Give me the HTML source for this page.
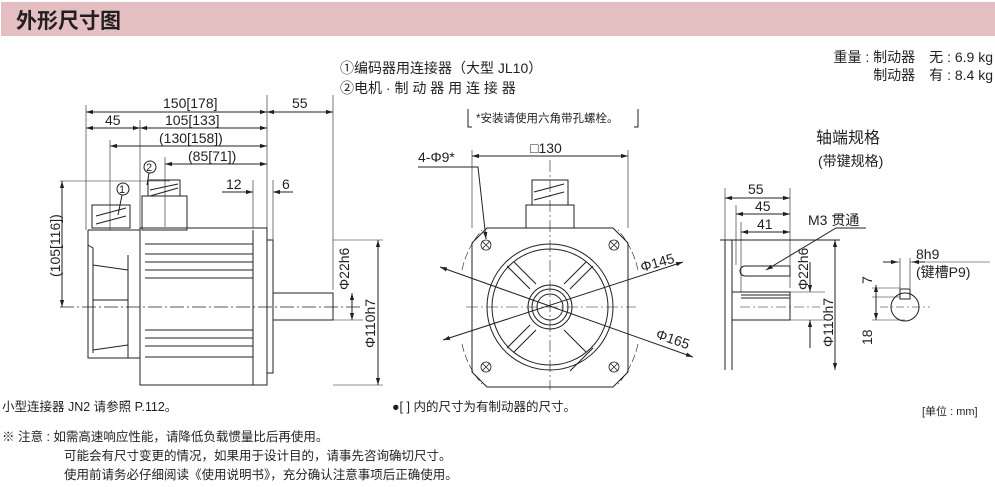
<!DOCTYPE html>
<html><head><meta charset="utf-8"><style>
body{margin:0;background:#fff;width:995px;height:487px;overflow:hidden}
svg{display:block}
text{font-family:"Liberation Sans","Noto Sans CJK SC",sans-serif;fill:#231f20}
</style></head><body>
<svg width="995" height="487" viewBox="0 0 995 487">
<defs><marker id="a" viewBox="0 0 10 10" refX="10" refY="5" markerWidth="7" markerHeight="7" orient="auto-start-reverse"><path d="M0,2 L10,5 L0,8z" fill="#231f20"/></marker></defs>
<rect x="1" y="2" width="994" height="34" fill="#e3bfc2"/>
<text x="16" y="28" font-size="21" font-weight="bold">外形尺寸图</text>

<g font-size="14">
<text x="340" y="73">①编码器用连接器（大型 JL10）</text>
<text x="340" y="93">②电机 · 制 动 器 用 连 接 器</text>
<text x="993" y="62" text-anchor="end">重量 : 制动器　无 : 6.9 kg</text>
<text x="993" y="80" text-anchor="end">制动器　有 : 8.4 kg</text>
<text x="816" y="143" font-size="16">轴端规格</text>
<text x="818" y="166">(带键规格)</text>
</g>
<path d="M468 109v18h4M638 109v18h-4" fill="none" stroke="#231f20"/>
<text x="476" y="122" font-size="11.5">*安装请使用六角带孔螺栓。</text>

<g stroke="#231f20" fill="none" stroke-width="1">
<rect x="140" y="228" width="127" height="157"/>
<path d="M267 240h6v133h-6"/>
<rect x="273" y="293" width="60" height="27"/>
<path d="M88 230h52M88 230v128h40M93 265l35 5M93 350l35-5M93 300h35M128 255v103h12M88 245l5 3v105"/>
<path d="M145 244h108M145 254h108M145 262h108M145 270h108M145 278h108M145 330h108M145 338h108M145 346h108M145 357h108M253 230v155"/>
<rect x="92" y="205" width="38" height="23"/>
<path d="M96 216l30-8M96 224l30-8"/>
<rect x="142" y="196" width="45" height="34"/><rect x="148" y="180" width="32" height="16"/>
<path d="M150 190l28-6M150 196l28-8"/>
<path d="M60 307h300" stroke-dasharray="14 3 2 3" stroke-width="0.7"/>
<path d="M86 105v125M267 95v135M333 95v195M140 120v108M110 140v90M165 157v70M253 180v48M273 180v60M60 181h110M333 240h50M333 320h30M333 385h50" stroke-width="0.6"/>
<path d="M86 112H267" marker-start="url(#a)" marker-end="url(#a)"/>
<path d="M267 112H333" marker-start="url(#a)" marker-end="url(#a)"/>
<path d="M86 128H140" marker-start="url(#a)" marker-end="url(#a)"/>
<path d="M140 128H267" marker-start="url(#a)" marker-end="url(#a)"/>
<path d="M110 146H267" marker-start="url(#a)" marker-end="url(#a)"/>
<path d="M165 164H267" marker-start="url(#a)" marker-end="url(#a)"/>
<path d="M222 192H253" marker-end="url(#a)"/><path d="M293 192H273" marker-end="url(#a)"/>
<path d="M62 181V307" marker-start="url(#a)" marker-end="url(#a)"/>
<path d="M352 293V320" marker-start="url(#a)" marker-end="url(#a)"/>
<path d="M378 240V385" marker-start="url(#a)" marker-end="url(#a)"/>
<circle cx="123" cy="189" r="6"/><circle cx="150" cy="167" r="6"/>
<path d="M122 195l-4 20M149 173l-2 12"/>
<!-- front view -->
<path d="M487 228h126l15 15v129l-15 15h-126l-15-15v-129z"/>
<rect x="526" y="205" width="48" height="23"/><rect x="532" y="180" width="36" height="25"/>
<path d="M534 192l30-8M534 200l30-8"/>
<circle cx="550" cy="307" r="63"/><circle cx="550" cy="307" r="58"/>
<circle cx="550" cy="307" r="22"/><circle cx="550" cy="307" r="18"/><circle cx="550" cy="307" r="13"/>
<path d="M507 266l23 23M593 266l-23 23M507 348l23-23M593 348l-23 23M514 262l22 22M586 262l-22 22M514 352l22-22M586 352l-22-22"/>
<g stroke-width="0.8"><circle cx="486" cy="245" r="5"/><circle cx="614" cy="245" r="5"/><circle cx="486" cy="367" r="5"/><circle cx="614" cy="367" r="5"/>
<path d="M482 241l8 8M490 241l-8 8M610 241l8 8M618 241l-8 8M482 363l8 8M490 363l-8 8M610 363l8 8M618 363l-8 8"/></g>
<path d="M550 160v230M466 307h170" stroke-dasharray="12 3 2 3" stroke-width="0.6"/>
<path d="M472 150v78M628 150v78" stroke-width="0.6"/>
<path d="M472 156H628" marker-start="url(#a)" marker-end="url(#a)"/>
<path d="M418 167h60l8 72" marker-end="url(#a)"/>
<path d="M443 340L683 262" marker-start="url(#a)" marker-end="url(#a)"/>
<path d="M440 267L693 357" marker-start="url(#a)" marker-end="url(#a)"/>
<path d="M462 270a90 90 0 0 1 20-40M462 344a90 90 0 0 0 20 40M638 270a90 90 0 0 0-20-40M638 344a90 90 0 0 1-20 40" stroke-dasharray="8 3" stroke-width="0.6"/>
<!-- shaft detail -->
<path d="M725 240v130M732 240v130M725 240h7M720 240h120"/>
<path d="M732 292h58v28h-58M741 295h49M741 298h49"/>
<path d="M745 266h45v10h-45a5 5 0 0 1 0-10z"/>
<path d="M740 307h80" stroke-dasharray="10 3 2 3" stroke-width="0.6"/>
<path d="M725 188v52M790 188v100M736 205v60M741 222v70M790 292h35M790 320h35" stroke-width="0.6"/>
<path d="M725 198H790" marker-start="url(#a)" marker-end="url(#a)"/>
<path d="M736 214H790" marker-start="url(#a)" marker-end="url(#a)"/>
<path d="M741 232H790" marker-start="url(#a)" marker-end="url(#a)"/>
<path d="M866 228h-30l-70 42" marker-end="url(#a)"/>
<path d="M810 262V292" marker-end="url(#a)"/><path d="M810 348V320" marker-end="url(#a)"/>
<path d="M835 240V370" marker-start="url(#a)" marker-end="url(#a)"/>
<circle cx="905" cy="307" r="14"/>
<path d="M900 289h10v10h-10z"/>
<path d="M900 258v30M910 258v30M883 262h17M910 262h80M872 288h28M872 297h28M872 320h33" stroke-width="0.6"/>
<path d="M876 285V297" marker-start="url(#a)"/><path d="M876 297V320" marker-end="url(#a)"/>
<path d="M880 307h50" stroke-dasharray="8 3 2 3" stroke-width="0.6"/>
</g>
<path d="M883 262h15" marker-end="url(#a)" stroke="#231f20"/><path d="M925 262h-13" marker-end="url(#a)" stroke="#231f20"/>

<g font-size="14">
<text x="163" y="108">150[178]</text><text x="292" y="108">55</text>
<text x="105" y="125">45</text><text x="165" y="125">105[133]</text>
<text x="159" y="143">(130[158])</text><text x="188" y="161">(85[71])</text>
<text x="226" y="189">12</text><text x="282" y="189">6</text>
<text x="119" y="193" font-size="11">1</text><text x="146" y="171" font-size="11">2</text>
<text transform="translate(60,277) rotate(-90)">(105[116])</text>
<text transform="translate(349,290) rotate(-90)">Φ22h6</text>
<text transform="translate(375,348) rotate(-90)">Φ110h7</text>
<text x="530" y="153">□130</text>
<text x="418" y="162">4-Φ9*</text>
<text transform="translate(642,272) rotate(-16)">Φ145</text>
<text transform="translate(655,338) rotate(19)">Φ165</text>
<text x="748" y="194">55</text><text x="755" y="211">45</text><text x="757" y="229">41</text>
<text x="808" y="225">M3 贯通</text>
<text transform="translate(808,290) rotate(-90)">Φ22h6</text>
<text transform="translate(833,347) rotate(-90)">Φ110h7</text>
<text x="916" y="259">8h9</text><text x="916" y="277">(键槽P9)</text>
<text transform="translate(872,284) rotate(-90)">7</text>
<text transform="translate(872,345) rotate(-90)">18</text>
</g>
<g font-size="12.5">
<text x="2" y="411">小型连接器 JN2 请参照 P.112。</text>
<text x="392" y="411">●[ ] 内的尺寸为有制动器的尺寸。</text>
<text x="922" y="415" font-size="11">[单位 : mm]</text>
<text x="2" y="441">※ 注意 : 如需高速响应性能，请降低负载惯量比后再使用。</text>
<text x="64" y="460">可能会有尺寸变更的情况，如果用于设计目的，请事先咨询确切尺寸。</text>
<text x="64" y="479">使用前请务必仔细阅读《使用说明书》，充分确认注意事项后正确使用。</text>
</g>
</svg>
</body></html>
